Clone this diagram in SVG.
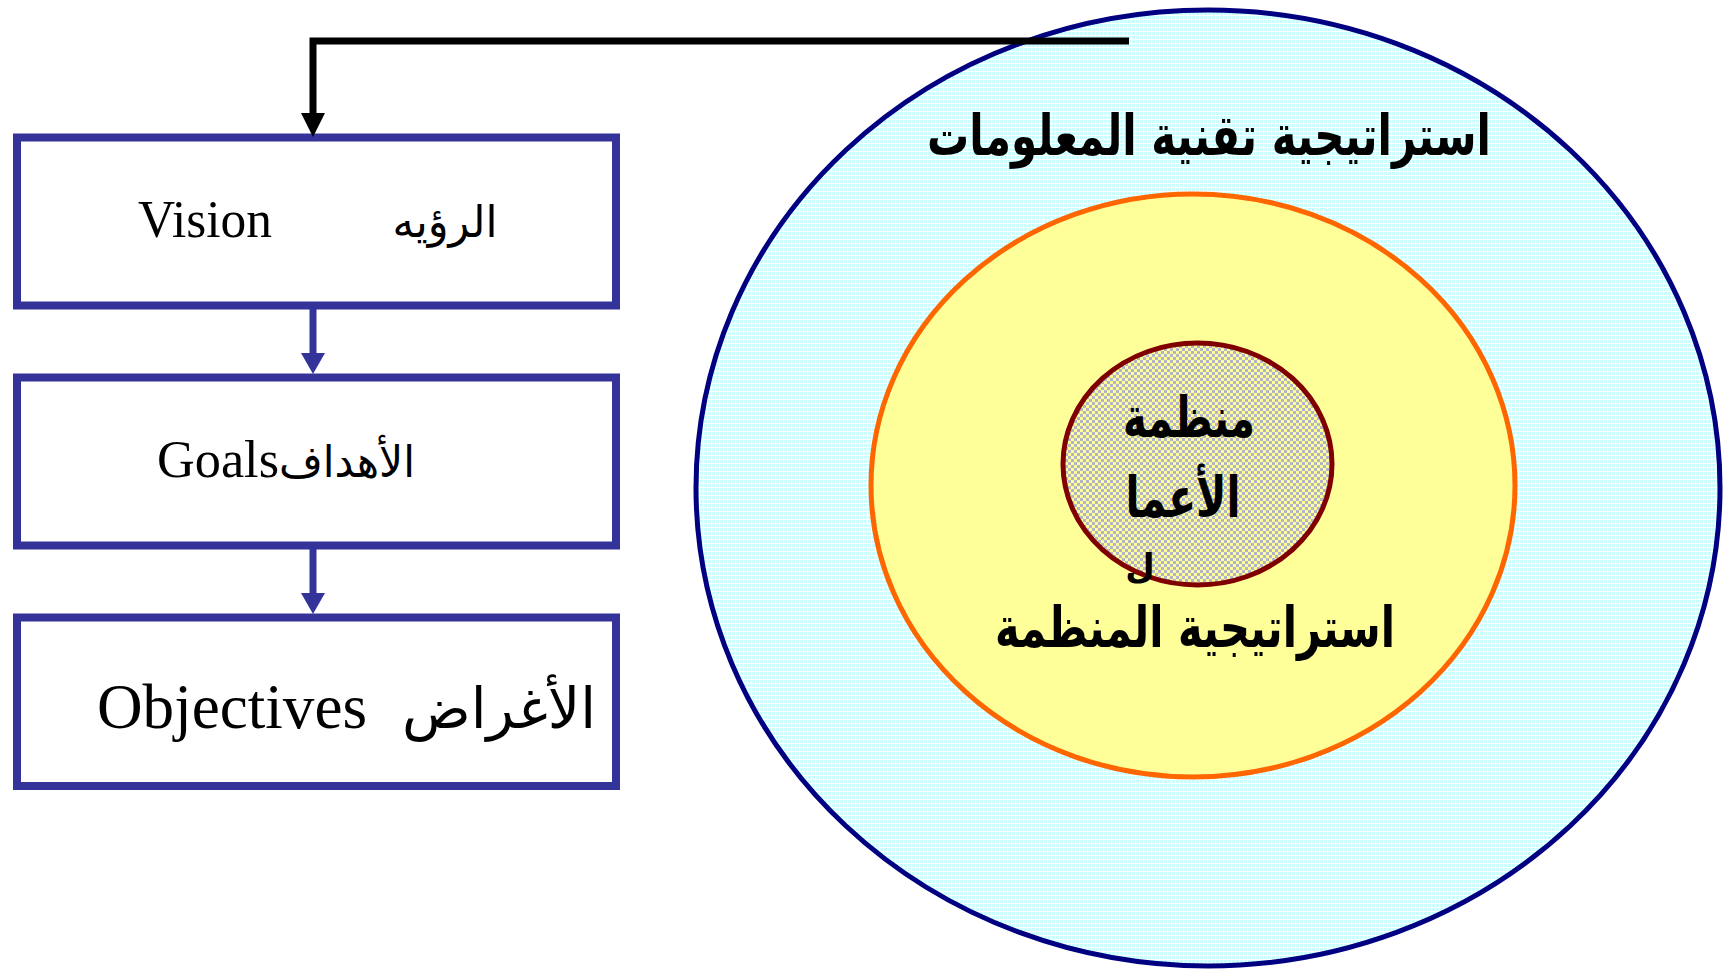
<svg xmlns="http://www.w3.org/2000/svg" width="1727" height="970" viewBox="0 0 1727 970">
<style>
.box{fill:#ffffff;stroke:#333399;stroke-width:8}
.lat{font-family:"Liberation Serif","Times New Roman",serif;fill:#000}
.arb{font-family:"DejaVu Sans","Liberation Serif",sans-serif;fill:#000}
.arbb{font-family:"DejaVu Sans",sans-serif;font-weight:bold;fill:#000}
.bl{stroke:#333399;stroke-width:7;fill:none}
.bh{fill:#333399}
</style>
<defs>
<pattern id="cyanDots" width="4" height="4" patternUnits="userSpaceOnUse">
<rect width="4" height="4" fill="#ffffff"/>
<rect width="3" height="3" fill="#CCFFFF"/>
</pattern>
<pattern id="checker" width="6" height="6" patternUnits="userSpaceOnUse">
<rect width="6" height="6" fill="#FFFF99"/>
<rect width="3" height="3" fill="#B4B4C8"/>
<rect x="3" y="3" width="3" height="3" fill="#B4B4C8"/>
</pattern>
</defs>
<rect width="1727" height="970" fill="#ffffff"/>

<g id="it-strategy">
<ellipse cx="1208" cy="488" rx="512" ry="478" fill="url(#cyanDots)" stroke="#000080" stroke-width="5"/>
<text class="arbb" x="1209" y="155" font-size="56" text-anchor="middle" textLength="564" lengthAdjust="spacingAndGlyphs">استراتيجية تقنية المعلومات</text>
</g>

<g id="org-strategy">
<ellipse cx="1193" cy="485.5" rx="322" ry="291.5" fill="#FFFF99" stroke="#FF6600" stroke-width="5"/>
<text class="arbb" x="1195" y="647" font-size="56" text-anchor="middle" textLength="400" lengthAdjust="spacingAndGlyphs">استراتيجية المنظمة</text>
</g>

<g id="business-org">
<ellipse cx="1197.5" cy="464" rx="134.5" ry="121" fill="url(#checker)" stroke="#800000" stroke-width="5"/>
<text class="arbb" x="1189" y="437" font-size="56" text-anchor="middle" textLength="132" lengthAdjust="spacingAndGlyphs">منظمة</text>
<text class="arbb" x="1183" y="517" font-size="56" text-anchor="middle" textLength="115" lengthAdjust="spacingAndGlyphs">الأعما</text>
<text class="arbb" x="1140" y="578" font-size="34" text-anchor="middle">ل</text>
</g>

<g id="vision">
<rect class="box" x="17" y="137.5" width="599" height="168"/>
<text class="lat" x="205" y="237" font-size="52" text-anchor="middle" textLength="134" lengthAdjust="spacingAndGlyphs">Vision</text>
<text class="arb" x="445" y="237" font-size="44" text-anchor="middle" textLength="105" lengthAdjust="spacingAndGlyphs">الرؤيه</text>
</g>

<g id="goals">
<rect class="box" x="17" y="377.5" width="599" height="168"/>
<text class="lat" x="218" y="477" font-size="52" text-anchor="middle" textLength="122" lengthAdjust="spacingAndGlyphs">Goals</text>
<text class="arb" x="347" y="477" font-size="44" text-anchor="middle" textLength="136" lengthAdjust="spacingAndGlyphs">الأهداف</text>
</g>

<g id="objectives">
<rect class="box" x="17" y="617.5" width="599" height="168.5"/>
<text class="lat" x="232" y="728" font-size="64" text-anchor="middle" textLength="270" lengthAdjust="spacingAndGlyphs">Objectives</text>
<text class="arb" x="499" y="728" font-size="56" text-anchor="middle" textLength="194" lengthAdjust="spacingAndGlyphs">الأغراض</text>
</g>

<g id="connectors">
<path d="M1129,41 H313 V114" fill="none" stroke="#000000" stroke-width="7" stroke-linejoin="miter"/>
<polygon points="301,113 325,113 313,137" fill="#000000"/>
<line class="bl" x1="313" y1="309" x2="313" y2="354"/>
<polygon class="bh" points="301,353 325,353 313,374"/>
<line class="bl" x1="313" y1="549" x2="313" y2="594"/>
<polygon class="bh" points="301,593 325,593 313,614"/>
</g>
</svg>
